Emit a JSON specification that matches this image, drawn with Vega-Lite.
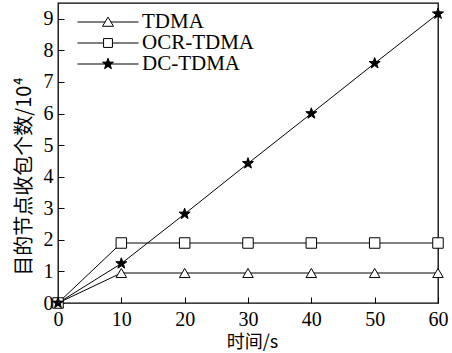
{
  "$schema": "https://vega.github.io/schema/vega-lite/v6.json",
  "width": 380,
  "height": 300,
  "autosize": {"type": "none"},
  "padding": {"left": 58, "top": 3, "right": 14, "bottom": 50},
  "background": "white",
  "config": {
    "view": {"stroke": "black", "strokeWidth": 1.3},
    "axis": {
      "grid": false,
      "domain": false,
      "tickColor": "black",
      "tickWidth": 1,
      "labelFlush": false,
      "labelFont": "Liberation Serif",
      "labelFontSize": 20,
      "labelColor": "black",
      "titleFont": "Noto Sans CJK SC",
      "titleFontSize": 20,
      "titleFontWeight": "normal",
      "titleColor": "black"
    }
  },
  "data": {
    "values": [
      {"t": 0, "v": 0, "s": "TDMA"},
      {"t": 10, "v": 0.95, "s": "TDMA"},
      {"t": 20, "v": 0.95, "s": "TDMA"},
      {"t": 30, "v": 0.95, "s": "TDMA"},
      {"t": 40, "v": 0.95, "s": "TDMA"},
      {"t": 50, "v": 0.95, "s": "TDMA"},
      {"t": 60, "v": 0.95, "s": "TDMA"},
      {"t": 0, "v": 0, "s": "OCR-TDMA"},
      {"t": 10, "v": 1.9, "s": "OCR-TDMA"},
      {"t": 20, "v": 1.9, "s": "OCR-TDMA"},
      {"t": 30, "v": 1.9, "s": "OCR-TDMA"},
      {"t": 40, "v": 1.9, "s": "OCR-TDMA"},
      {"t": 50, "v": 1.9, "s": "OCR-TDMA"},
      {"t": 60, "v": 1.9, "s": "OCR-TDMA"},
      {"t": 0, "v": 0, "s": "DC-TDMA"},
      {"t": 10, "v": 1.25, "s": "DC-TDMA"},
      {"t": 20, "v": 2.82, "s": "DC-TDMA"},
      {"t": 30, "v": 4.42, "s": "DC-TDMA"},
      {"t": 40, "v": 6.0, "s": "DC-TDMA"},
      {"t": 50, "v": 7.59, "s": "DC-TDMA"},
      {"t": 60, "v": 9.16, "s": "DC-TDMA"}
    ]
  },
  "resolve": {
    "scale": {"shape": "independent", "fill": "independent"},
    "axis": {"x": "independent", "y": "independent"}
  },
  "layer": [
    {
      "mark": {"type": "line", "color": "black", "strokeWidth": 1},
      "encoding": {
        "x": {
          "field": "t", "type": "quantitative",
          "scale": {"domain": [0, 60], "nice": false},
          "axis": {"orient": "bottom", "values": [0, 10, 20, 30, 40, 50, 60], "ticks": false, "title": "时间/s", "labelPadding": 6, "titleFontSize": 18, "titleY": 39, "titleBaseline": "middle", "titleX": 194}
        },
        "y": {
          "field": "v", "type": "quantitative",
          "scale": {"domain": [0, 9.5], "nice": false},
          "axis": {"orient": "left", "values": [0, 1, 2, 3, 4, 5, 6, 7, 8, 9], "ticks": false, "title": "目的节点收包个数/10⁴", "labelPadding": 5, "titleX": -34, "titleY": 173, "titleBaseline": "middle"}
        },
        "detail": {"field": "s"}
      }
    },
    {
      "mark": {"type": "point", "filled": true, "stroke": "black", "strokeWidth": 1, "size": 110, "opacity": 1},
      "encoding": {
        "x": {"field": "t", "type": "quantitative", "axis": null},
        "y": {"field": "v", "type": "quantitative", "axis": null},
        "shape": {
          "field": "s", "type": "nominal",
          "scale": {"domain": ["TDMA", "OCR-TDMA", "DC-TDMA"], "range": ["triangle-up", "square", "M0,-1.1L0.26,-0.36L1.05,-0.34L0.42,0.14L0.65,0.89L0,0.44L-0.65,0.89L-0.42,0.14L-1.05,-0.34L-0.26,-0.36Z"]},
          "legend": null
        },
        "fill": {
          "field": "s", "type": "nominal",
          "scale": {"domain": ["TDMA", "OCR-TDMA", "DC-TDMA"], "range": ["white", "white", "black"]},
          "legend": null
        }
      }
    },
    {
      "transform": [{"filter": "datum.t < 0"}],
      "mark": {"type": "point", "filled": true, "stroke": "black", "strokeWidth": 1, "opacity": 1},
      "encoding": {
        "x": {
          "field": "t", "type": "quantitative",
          "axis": {"orient": "bottom", "values": [0, 10, 20, 30, 40, 50, 60], "ticks": true, "tickSize": -6, "labels": false, "title": null}
        },
        "y": {
          "field": "v", "type": "quantitative",
          "axis": {"orient": "left", "values": [0, 1, 2, 3, 4, 5, 6, 7, 8, 9], "ticks": true, "tickSize": -6, "labels": false, "title": null}
        },
        "shape": {
          "field": "s", "type": "nominal",
          "scale": {"domain": ["TDMA", "OCR-TDMA", "DC-TDMA"], "range": [
            "M-1,0L-0.09,0M0.09,0L1,0M0,-0.16L-0.18,0.14L0.18,0.14Z",
            "M-1,0L-0.145,0M0.145,0L1,0M-0.145,-0.145L0.145,-0.145L0.145,0.145L-0.145,0.145Z",
            "M-1,0L1,0M0,-0.19L0.045,-0.062L0.18,-0.059L0.072,0.024L0.112,0.154L0,0.076L-0.112,0.154L-0.072,0.024L-0.18,-0.059L-0.045,-0.062Z"
          ]},
          "legend": {
            "title": null,
            "orient": "none",
            "legendX": 19,
            "legendY": 9,
            "padding": 0,
            "symbolSize": 3721,
            "clipHeight": 20,
            "rowPadding": 0,
            "symbolOffset": 0,
            "labelOffset": 3,
            "labelFont": "Liberation Serif",
            "labelFontSize": 21,
            "labelColor": "black",
            "symbolStrokeWidth": 1
          }
        },
        "fill": {
          "field": "s", "type": "nominal",
          "scale": {"domain": ["TDMA", "OCR-TDMA", "DC-TDMA"], "range": ["white", "white", "black"]},
          "legend": {
            "title": null,
            "orient": "none",
            "legendX": 19,
            "legendY": 9,
            "padding": 0,
            "symbolSize": 3721,
            "clipHeight": 20,
            "rowPadding": 0,
            "symbolOffset": 0,
            "labelOffset": 3,
            "labelFont": "Liberation Serif",
            "labelFontSize": 21,
            "labelColor": "black",
            "symbolStrokeWidth": 1
          }
        }
      }
    }
  ]
}
